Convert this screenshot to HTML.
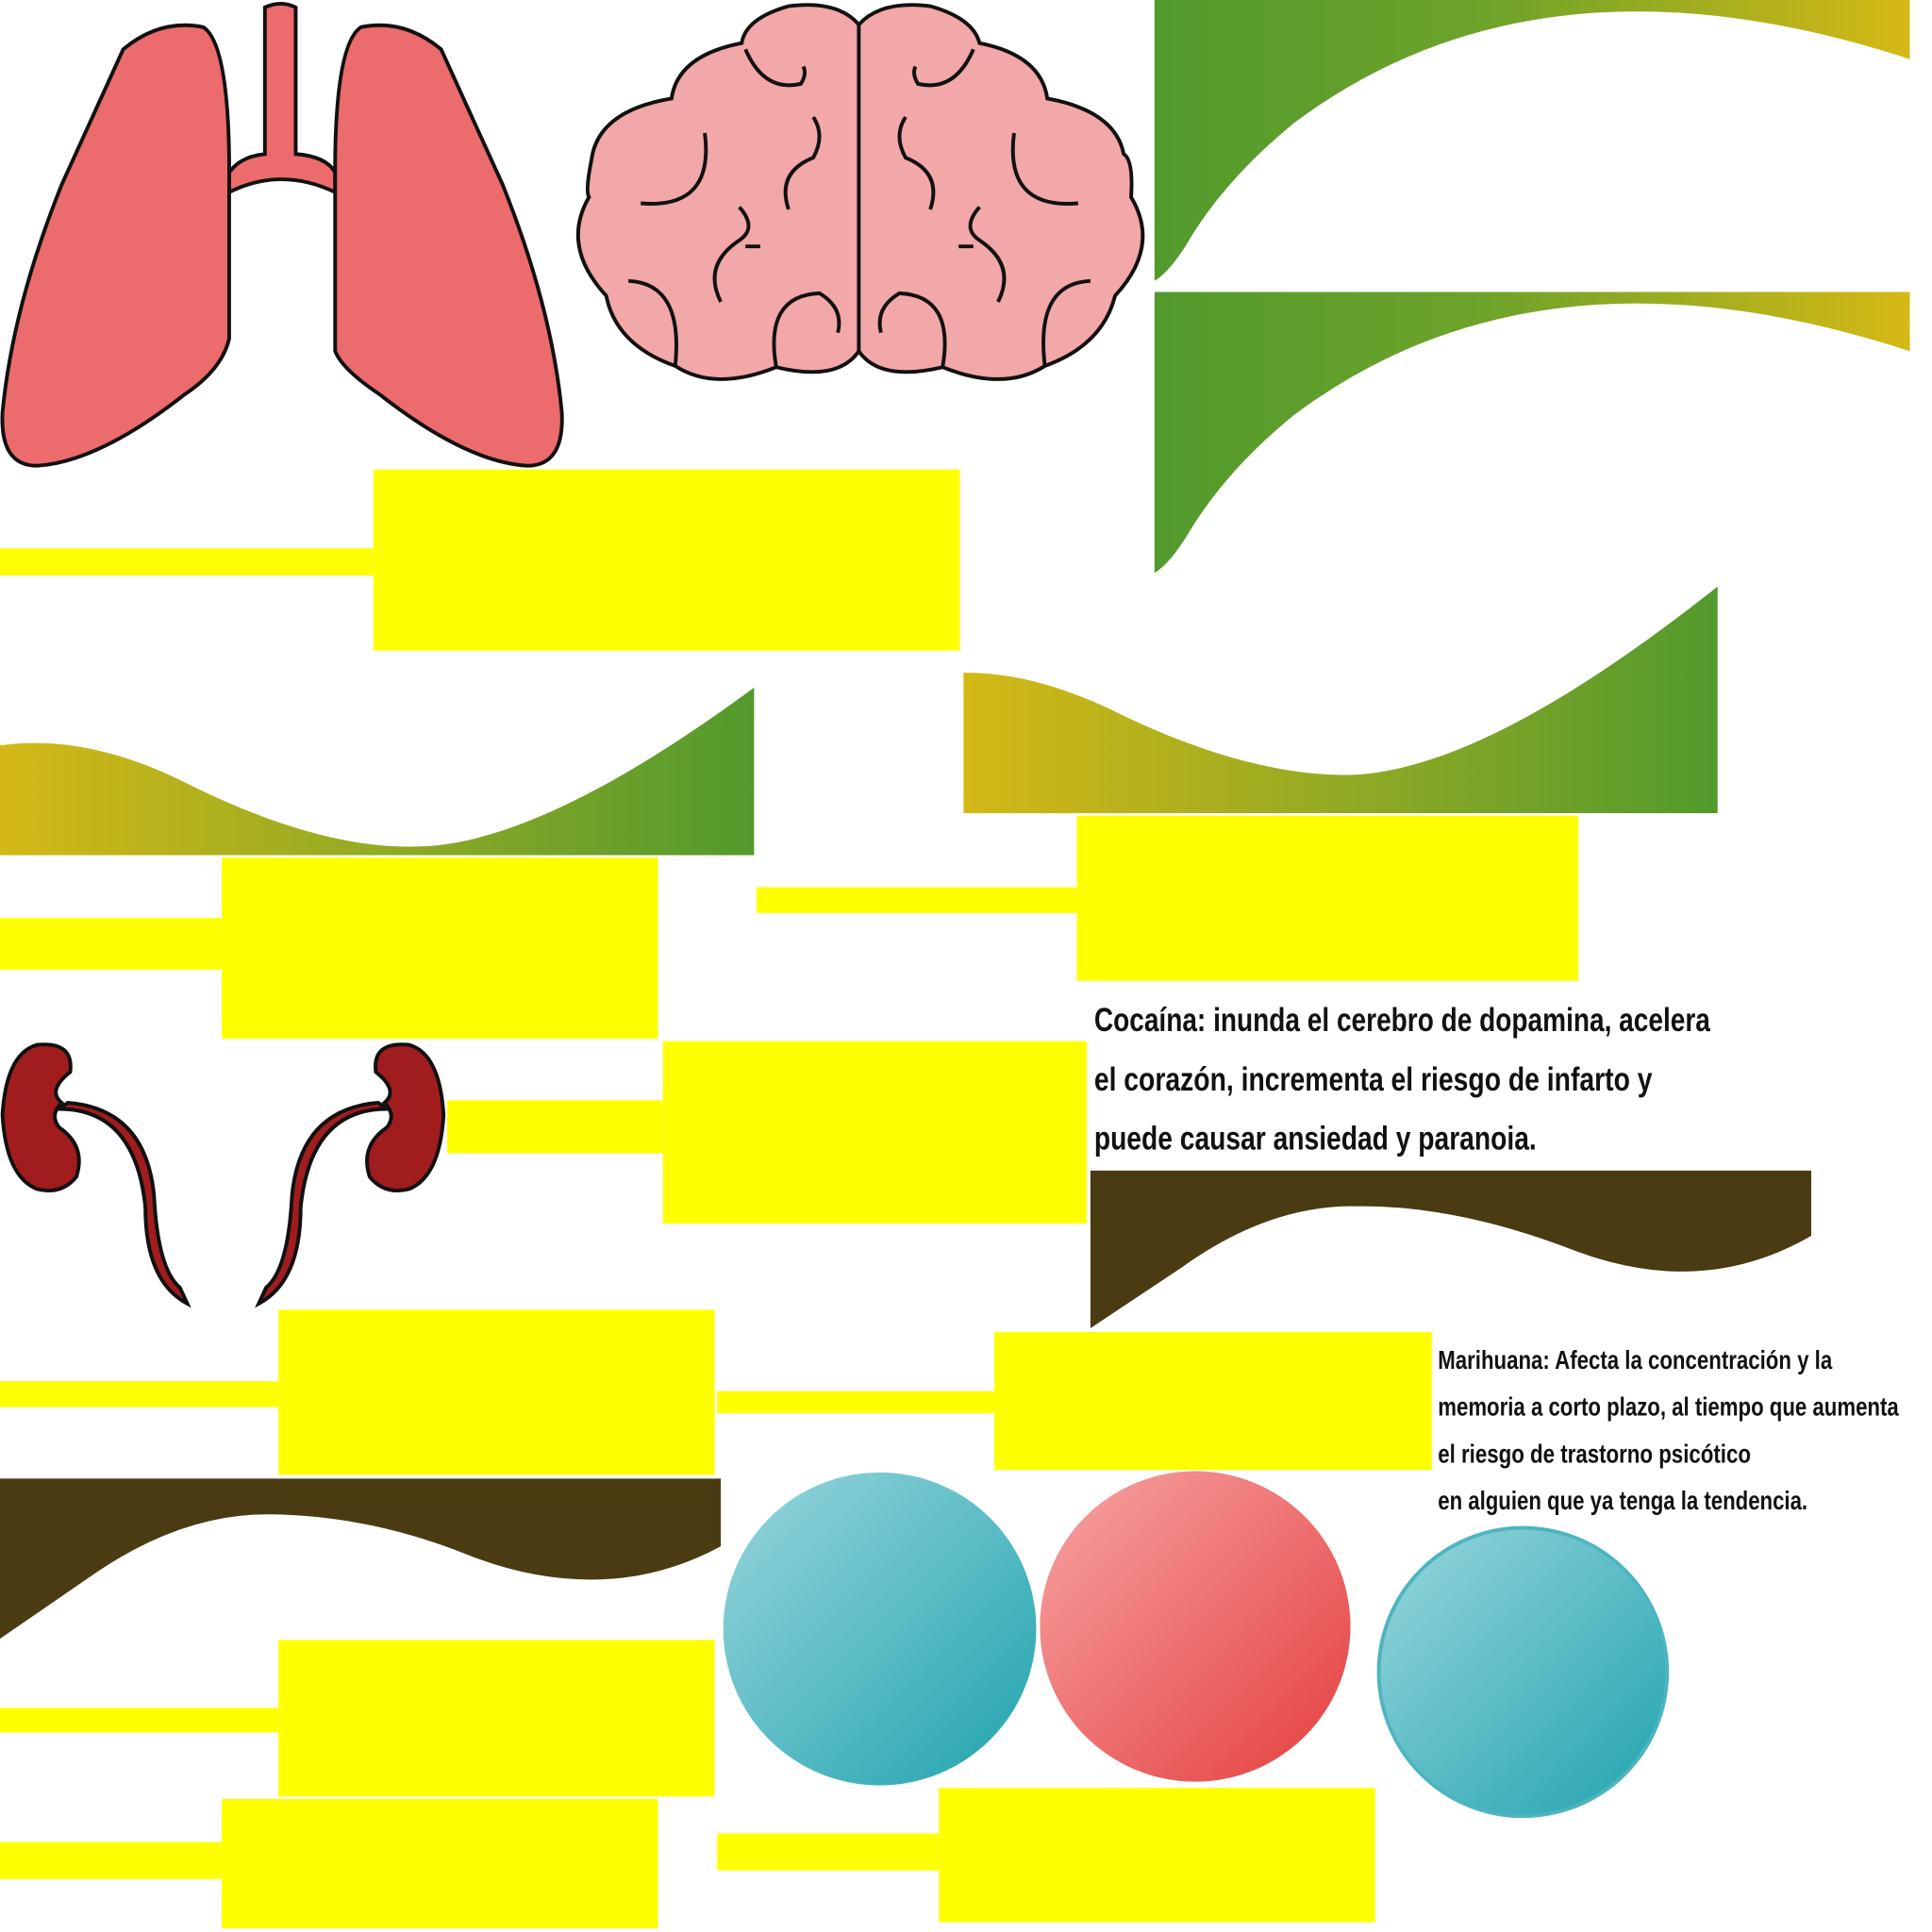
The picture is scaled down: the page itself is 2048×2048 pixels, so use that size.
<!DOCTYPE html>
<html><head><meta charset="utf-8"><style>
html,body{margin:0;padding:0;background:#fff;width:2048px;height:2048px;overflow:hidden}
svg{display:block}
.t{font-family:"Liberation Sans Narrow","Liberation Sans",sans-serif;font-weight:bold;fill:#111}
</style></head><body>
<svg width="2048" height="2048" viewBox="0 0 1568 1568" preserveAspectRatio="none">
<defs>
<linearGradient id="gy" x1="0" x2="1" y1="0" y2="0"><stop offset="0" stop-color="#529a2d"/><stop offset="0.45" stop-color="#6fa32a"/><stop offset="1" stop-color="#d6b915"/></linearGradient>
<linearGradient id="yg" x1="0" x2="1" y1="0" y2="0"><stop offset="0" stop-color="#d4b816"/><stop offset="0.5" stop-color="#93aa24"/><stop offset="1" stop-color="#529a2d"/></linearGradient>
<linearGradient id="teal" x1="0" y1="0" x2="1" y2="1"><stop offset="0" stop-color="#9ad6dd"/><stop offset="1" stop-color="#1fa3ae"/></linearGradient>
<linearGradient id="red" x1="0" y1="0" x2="1" y2="1"><stop offset="0" stop-color="#f7a4a4"/><stop offset="1" stop-color="#e53e3e"/></linearGradient>
</defs>
<g stroke="#111" stroke-width="3">
<path d="M215,6 Q228,0 240,6 V125 Q265,127 272,140 V156 Q228,135 186,156 V140 Q195,127 215,125 Z" fill="#ec6b6c"/>
<path d="M100,40 Q130,15 165,22 Q185,35 186,130 V275 Q180,300 150,320 Q80,375 30,378 Q0,378 2,335 Q10,250 50,150 Z" fill="#ec6b6c"/>
<path d="M358,40 Q328,15 293,22 Q273,35 272,130 V285 Q278,300 308,320 Q378,375 428,378 Q458,378 456,335 Q448,250 408,150 Z" fill="#ec6b6c"/>
</g>
<g stroke="#111" stroke-width="3" fill="#f2a7a8">
<path d="M697,20 Q680,0 640,5 Q605,15 602,35 Q550,45 545,80 Q485,90 480,130 Q475,155 478,160 Q455,200 492,240 Q500,280 548,297 Q580,318 630,298 Q680,310 697,285 Q714,310 765,298 Q815,318 848,297 Q895,280 905,240 Q942,200 918,160 Q920,130 912,125 Q905,90 850,80 Q845,45 795,35 Q790,15 755,5 Q715,0 697,20 Z"/>
<path d="M697,20 V285" fill="none"/>
<path d="M520,165 Q580,170 572,108 M640,170 Q630,140 660,128 Q670,110 660,95 M510,228 Q555,230 548,297 M630,298 Q620,240 665,238 Q685,250 680,270 M600,168 Q615,185 600,195 Q570,215 585,245 M605,200 L617,200 M605,40 Q620,75 650,68 Q655,60 652,54" fill="none"/>
<path d="M875,165 Q815,170 823,108 M755,170 Q765,140 735,128 Q725,110 735,95 M885,228 Q840,230 848,297 M765,298 Q775,240 730,238 Q710,250 715,270 M795,168 Q780,185 795,195 Q825,215 810,245 M790,200 L778,200 M790,40 Q775,75 745,68 Q740,60 743,54" fill="none"/>
</g>
<path d="M937,0 H1550 V48 Q1250,-50 1050,100 Q995,145 965,195 Q950,220 937,228 Z" fill="url(#gy)"/>
<path d="M937,237 H1550 V285 Q1250,187 1050,337 Q995,382 965,432 Q950,457 937,465 Z" fill="url(#gy)"/>
<path d="M0,605 Q70,595 150,635 Q260,690 340,687 Q440,685 612,558 V694 H0 Z" fill="url(#yg)"/>
<path d="M782,546 Q840,545 910,580 Q1010,628 1090,629 Q1200,630 1394,476 V660 H782 Z" fill="url(#yg)"/>
<path d="M885,950 H1470 V1003 Q1420,1032 1365,1032 Q1320,1032 1270,1012 Q1180,978 1100,979 Q1030,978 960,1028 L885,1078 Z" fill="#4a3b12"/>
<path d="M0,1200 H585 V1255 Q535,1282 480,1282 Q430,1282 380,1262 Q300,1230 220,1229 Q150,1228 80,1275 L0,1330 Z" fill="#4a3b12"/>
<g fill="#ffff00">
<rect x="303" y="381" width="476" height="147"/><rect x="0" y="445" width="303" height="22"/>
<rect x="180" y="696" width="354" height="147"/><rect x="0" y="745" width="180" height="42"/>
<rect x="874" y="662" width="407" height="134"/><rect x="614" y="720" width="260" height="21"/>
<rect x="538" y="845" width="344" height="148"/><rect x="363" y="893" width="175" height="43"/>
<rect x="226" y="1063" width="354" height="134"/><rect x="0" y="1121" width="226" height="21"/>
<rect x="807" y="1081" width="355" height="112"/><rect x="582" y="1129" width="225" height="18"/>
<rect x="226" y="1331" width="354" height="127"/><rect x="0" y="1386" width="226" height="20"/>
<rect x="180" y="1460" width="354" height="105"/><rect x="0" y="1495" width="180" height="30"/>
<rect x="762" y="1451" width="354" height="109"/><rect x="582" y="1488" width="180" height="30"/>
</g>
<g stroke="#111" stroke-width="3" fill="#a11d1d">
<path d="M48,900 Q110,900 118,980 Q118,1040 152,1058 L146,1045 Q128,1030 125,970 Q118,900 55,895 Z"/>
<path d="M30,848 Q60,845 57,870 Q38,885 50,895 Q40,905 48,915 Q70,930 62,955 Q50,970 30,965 Q5,955 2,905 Q5,855 30,848 Z"/>
<path d="M314,900 Q252,900 244,980 Q244,1040 210,1058 L216,1045 Q234,1030 237,970 Q244,900 307,895 Z"/>
<path d="M332,848 Q302,845 305,870 Q324,885 312,895 Q322,905 314,915 Q292,930 300,955 Q312,970 332,965 Q357,955 360,905 Q357,855 332,848 Z"/>
</g>
<g class="t" font-size="27">
<text x="888" y="837" textLength="500" lengthAdjust="spacingAndGlyphs">Cocaína: inunda el cerebro de dopamina, acelera</text>
<text x="888" y="885" textLength="453" lengthAdjust="spacingAndGlyphs">el corazón, incrementa el riesgo de infarto y</text>
<text x="888" y="933" textLength="359" lengthAdjust="spacingAndGlyphs">puede causar ansiedad y paranoia.</text>
</g>
<g class="t" font-size="21">
<text x="1167" y="1111" textLength="320" lengthAdjust="spacingAndGlyphs">Marihuana: Afecta la concentración y la</text>
<text x="1167" y="1149" textLength="374" lengthAdjust="spacingAndGlyphs">memoria a corto plazo, al tiempo que aumenta</text>
<text x="1167" y="1187" textLength="254" lengthAdjust="spacingAndGlyphs">el riesgo de trastorno psicótico</text>
<text x="1167" y="1225" textLength="300" lengthAdjust="spacingAndGlyphs">en alguien que ya tenga la tendencia.</text>
</g>
<circle cx="714" cy="1322" r="127" fill="url(#teal)"/>
<circle cx="970" cy="1320" r="126" fill="url(#red)"/>
<circle cx="1236" cy="1357" r="117" fill="url(#teal)" stroke="#4db5bf" stroke-width="3"/>
</svg>
</body></html>
